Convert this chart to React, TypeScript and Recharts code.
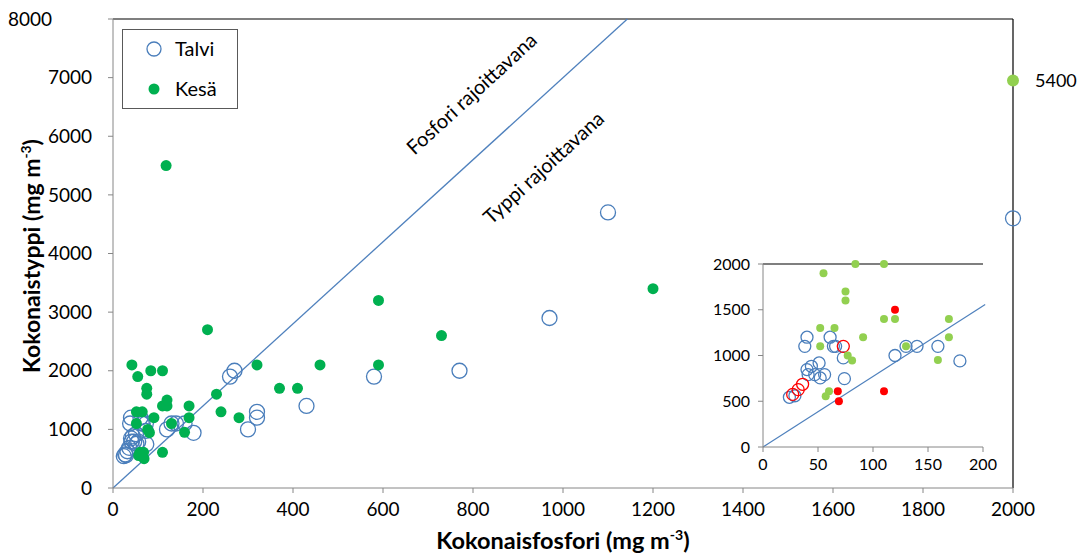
import React from "react";
import {
  ScatterChart,
  Scatter,
  XAxis,
  YAxis,
  ReferenceLine,
} from "recharts";

// Talvi (winter) points, main chart; low ones also appear in the inset
const talviLow = [
  { x: 24, y: 543 }, { x: 40, y: 1200 }, { x: 38, y: 1100 },
  { x: 61, y: 1200 }, { x: 66, y: 1100 }, { x: 64, y: 1100 },
  { x: 73, y: 974 }, { x: 40, y: 846 }, { x: 44, y: 882 },
  { x: 51, y: 919 }, { x: 41, y: 791 }, { x: 47, y: 791 },
  { x: 52, y: 755 }, { x: 56, y: 791 }, { x: 74, y: 747 },
  { x: 29, y: 560 }, { x: 120, y: 1000 }, { x: 130, y: 1100 },
  { x: 140, y: 1100 }, { x: 159, y: 1100 }, { x: 179, y: 941 },
];
// these are drawn red in the inset
const talviRed = [
  { x: 27, y: 575 }, { x: 32, y: 627 }, { x: 36, y: 685 }, { x: 73, y: 1100 },
];
const talviHigh = [
  { x: 260, y: 1900 }, { x: 270, y: 2000 }, { x: 300, y: 1000 },
  { x: 320, y: 1300 }, { x: 320, y: 1200 }, { x: 430, y: 1400 },
  { x: 580, y: 1900 }, { x: 770, y: 2000 }, { x: 970, y: 2900 },
  { x: 1100, y: 4700 }, { x: 2000, y: 4600 },
];

// Kesä (summer) points
const kesaLow = [
  { x: 55, y: 1900 }, { x: 84, y: 2000 }, { x: 110, y: 2000 },
  { x: 75, y: 1700 }, { x: 75, y: 1600 }, { x: 52, y: 1300 },
  { x: 65, y: 1300 }, { x: 52, y: 1100 }, { x: 91, y: 1200 },
  { x: 110, y: 1400 }, { x: 120, y: 1400 }, { x: 169, y: 1400 },
  { x: 169, y: 1200 }, { x: 130, y: 1100 }, { x: 159, y: 950 },
  { x: 77, y: 1000 }, { x: 81, y: 944 }, { x: 60, y: 608 },
  { x: 57, y: 554 },
];
const kesaRed = [
  { x: 68, y: 608 }, { x: 69, y: 500 }, { x: 110, y: 608 }, { x: 120, y: 1500 },
];
const kesaHigh = [
  { x: 42, y: 2100 }, { x: 118, y: 5500 }, { x: 210, y: 2700 },
  { x: 230, y: 1600 }, { x: 240, y: 1300 }, { x: 280, y: 1200 },
  { x: 320, y: 2100 }, { x: 370, y: 1700 }, { x: 410, y: 1700 },
  { x: 460, y: 2100 }, { x: 590, y: 3200 }, { x: 590, y: 2100 },
  { x: 730, y: 2600 }, { x: 1200, y: 3400 },
];
// off-scale point, real phosphorus 5400
const kesaOutlier = [{ x: 2000, y: 6950, label: "5400" }];

const talviAll = [...talviLow, ...talviRed, ...talviHigh];
const kesaAll = [...kesaLow, ...kesaRed, ...kesaHigh];

// N:P ratio lines
const mainRatio = [{ x: 0, y: 0 }, { x: 1143, y: 8000 }];
const insetRatio = [{ x: 0, y: 0 }, { x: 202, y: 1557 }];

const mainXTicks = [0, 200, 400, 600, 800, 1000, 1200, 1400, 1600, 1800, 2000];
const mainYTicks = [0, 1000, 2000, 3000, 4000, 5000, 6000, 7000, 8000];
const insetXTicks = [0, 50, 100, 150, 200];
const insetYTicks = [0, 500, 1000, 1500, 2000];

const BLUE = "#4a7ebb";
const LINE_BLUE = "#4f81bd";
const GREEN = "#00b050";
const LIGHT_GREEN = "#92d050";
const RED = "#ff0000";
const GRAY = "#868686";

const ring = (color: string, r: number) => (p: any) => (
  <circle cx={p.cx} cy={p.cy} r={r} fill="none" stroke={color} strokeWidth={1.3} />
);
const dot = (color: string, r: number) => (p: any) => (
  <circle cx={p.cx} cy={p.cy} r={r} fill={color} />
);
const outlierShape = (p: any) => (
  <g>
    <circle cx={p.cx} cy={p.cy} r={6} fill={LIGHT_GREEN} />
    <text x={p.cx + 22} y={p.cy} dy="0.35em" fontSize={18} fill="#000">
      {p.payload.label}
    </text>
  </g>
);

const MainYTick = (props: any) => {
  const { x, y, payload } = props;
  if (payload.value === 8000) {
    return (
      <text x={8} y={y} dy="0.35em" textAnchor="start" fontSize={19} fill="#000">
        {payload.value}
      </text>
    );
  }
  return (
    <text x={x} y={y} dy="0.35em" textAnchor="end" fontSize={19} fill="#000">
      {payload.value}
    </text>
  );
};

const abs = (left: number, top: number, extra: React.CSSProperties = {}): React.CSSProperties => ({
  position: "absolute",
  left,
  top,
  whiteSpace: "nowrap",
  ...extra,
});

export default function App() {
  return (
    <div
      style={{
        position: "absolute",
        left: 0,
        top: 0,
        width: 1078,
        height: 554,
        background: "#fff",
        fontFamily: "Lato, 'Open Sans', sans-serif",
        color: "#000",
      }}
    >
      <ScatterChart width={1078} height={554} margin={{ top: 19, right: 65, bottom: 36, left: 13 }}>
        <XAxis
          type="number"
          dataKey="x"
          domain={[0, 2000]}
          ticks={mainXTicks}
          interval={0}
          stroke={GRAY}
          tickSize={5}
          tickMargin={10}
          height={30}
          tick={{ fill: "#000", fontSize: 19 }}
        />
        <YAxis
          type="number"
          dataKey="y"
          domain={[0, 8000]}
          ticks={mainYTicks}
          interval={0}
          stroke={GRAY}
          tickSize={5}
          tickMargin={16}
          width={100}
          tick={<MainYTick />}
        />
        <ReferenceLine y={8000} stroke="#000" strokeWidth={1.2} />
        <ReferenceLine x={2000} stroke="#000" strokeWidth={1.2} />
        <ReferenceLine segment={mainRatio} stroke={LINE_BLUE} strokeWidth={1.3} />
        <Scatter name="Talvi" data={talviAll} shape={ring(BLUE, 7.5)} isAnimationActive={false} />
        <Scatter name="Kesä" data={kesaAll} shape={dot(GREEN, 5.5)} isAnimationActive={false} />
        <Scatter data={kesaOutlier} shape={outlierShape} isAnimationActive={false} />
      </ScatterChart>

      {/* legend */}
      <div
        style={abs(122, 29, {
          width: 116,
          height: 80,
          boxSizing: "border-box",
          border: "1px solid #595959",
          background: "#fff",
        })}
      >
        <svg width={20} height={20} style={abs(21, 9)}>
          <circle cx={10} cy={10} r={7} fill="none" stroke={BLUE} strokeWidth={1.3} />
        </svg>
        <div style={abs(52, 6, { fontSize: 20, lineHeight: "24px" })}>Talvi</div>
        <svg width={20} height={20} style={abs(21, 49)}>
          <circle cx={10} cy={10} r={5.5} fill={GREEN} />
        </svg>
        <div style={abs(52, 46, { fontSize: 20, lineHeight: "24px" })}>Kesä</div>
      </div>

      {/* region labels */}
      <div style={abs(471, 93, { fontSize: 20, transform: "translate(-50%, -50%) rotate(-42.5deg)" })}>
        Fosfori rajoittavana
      </div>
      <div style={abs(543, 167, { fontSize: 20, transform: "translate(-50%, -50%) rotate(-42.5deg)" })}>
        Typpi rajoittavana
      </div>

      {/* axis titles */}
      <div style={abs(563, 540, { fontSize: 23.5, fontWeight: 700, transform: "translate(-50%, -50%)" })}>
        Kokonaisfosfori (mg m<sup style={{ fontSize: "0.6em" }}>-3</sup>)
      </div>
      <div
        style={abs(31, 256, {
          fontSize: 23,
          fontWeight: 700,
          transform: "translate(-50%, -50%) rotate(-90deg)",
        })}
      >
        Kokonaistyppi (mg m<sup style={{ fontSize: "0.6em" }}>-3</sup>)
      </div>

      {/* inset */}
      <div style={abs(703, 250)}>
        <ScatterChart width={295} height={236} margin={{ top: 14, right: 15, bottom: 10, left: 0 }}>
          <XAxis
            type="number"
            dataKey="x"
            domain={[0, 200]}
            ticks={insetXTicks}
            interval={0}
            stroke={GRAY}
            tickSize={5}
            tickMargin={7}
            height={29}
            tick={{ fill: "#000", fontSize: 16 }}
          />
          <YAxis
            type="number"
            dataKey="y"
            domain={[0, 2000]}
            ticks={insetYTicks}
            interval={0}
            stroke={GRAY}
            tickSize={5}
            tickMargin={8}
            width={60}
            tick={{ fill: "#000", fontSize: 16 }}
          />
          <ReferenceLine y={2000} stroke="#000" strokeWidth={1.2} />
          <ReferenceLine segment={insetRatio} stroke={LINE_BLUE} strokeWidth={1.2} ifOverflow="visible" />
          <Scatter data={talviLow} shape={ring(BLUE, 6)} isAnimationActive={false} />
          <Scatter data={talviRed} shape={ring(RED, 6)} isAnimationActive={false} />
          <Scatter data={kesaLow} shape={dot(LIGHT_GREEN, 4)} isAnimationActive={false} />
          <Scatter data={kesaRed} shape={dot(RED, 4)} isAnimationActive={false} />
        </ScatterChart>
      </div>
    </div>
  );
}
